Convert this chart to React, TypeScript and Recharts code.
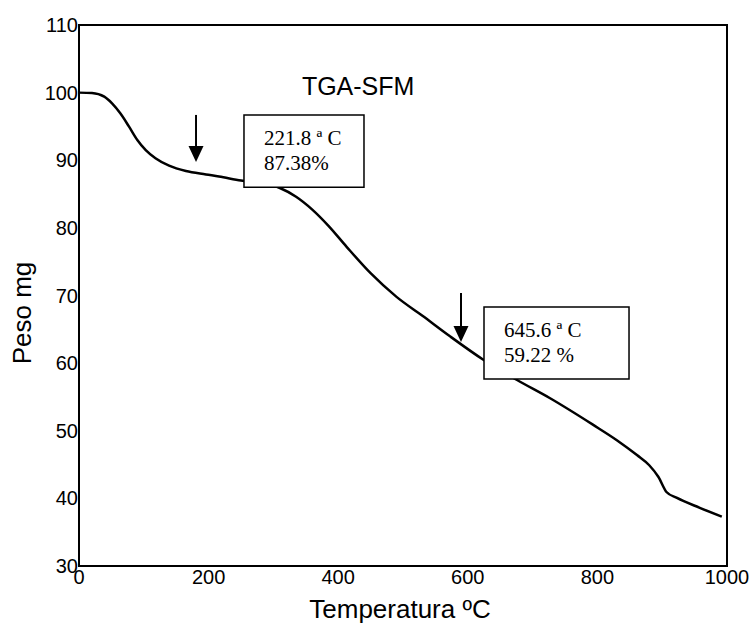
import {
  ComposedChart,
  Line,
  XAxis,
  YAxis,
  ReferenceArea,
  ReferenceLine,
  ReferenceDot,
} from "recharts";

const temps = [0, 20, 39, 51, 64, 77, 90, 103, 118, 139, 165, 196, 216, 250, 280, 310, 335, 360, 385, 413, 450, 490, 530, 572, 624, 676, 727, 793, 830, 861, 880, 894, 907, 922, 958, 992];
const weights = [100, 99.95, 99.4, 98.4, 96.9, 95.0, 93.0, 91.5, 90.3, 89.2, 88.4, 87.9, 87.6, 87.0, 86.6, 85.9, 84.6, 82.7, 80.3, 77.2, 73.3, 69.8, 67.0, 64.0, 60.5, 57.5, 54.8, 50.9, 48.6, 46.4, 44.9, 43.2, 40.9, 40.1, 38.6, 37.3];

const xTicks = [0, 200, 400, 600, 800, 1000];
const yTicks = [30, 40, 50, 60, 70, 80, 90, 100, 110];

// annotation boxes in data units, with their two text lines
const boxes = [
  { x1: 254.6, x2: 439.8, y1: 86.0, y2: 96.7, lines: ["221.8 ª C", "87.38%"] },
  { x1: 625, x2: 848.8, y1: 57.65, y2: 68.3, lines: ["645.6 ª C", "59.22 %"] },
];

const arrows = [
  { x: 180.6, top: 96.7, tip: 89.74 },
  { x: 589.5, top: 70.37, tip: 63.12 },
];

const data = temps.map((t, i) => ({ t, w: weights[i] }));

const SANS = "'Liberation Sans', Arial, sans-serif";
const SERIF = "'Liberation Serif', 'Times New Roman', serif";

function BoxText({ viewBox, lines }: any) {
  const { x, y } = viewBox;
  return (
    <g>
      {lines.map((l: string, i: number) => (
        <text key={i} x={x + 20} y={y + 30 + i * 25} fontFamily={SERIF} fontSize={21} fill="#000">
          {l}
        </text>
      ))}
    </g>
  );
}

function ArrowHead({ cx, cy }: any) {
  return <polygon points={`${cx - 7.5},${cy - 16} ${cx + 7.5},${cy - 16} ${cx},${cy}`} fill="#000" />;
}

function Title({ cx, cy }: any) {
  return (
    <text x={cx} y={cy} fontFamily={SANS} fontSize={25} fill="#000">
      TGA-SFM
    </text>
  );
}

export default function App() {
  return (
    <div style={{ width: 754, height: 624 }}>
      <style>{`body{margin:0}`}</style>
      <ComposedChart width={754} height={624} data={data} margin={{ top: 25, right: 27, bottom: 0, left: 0 }}>
        <XAxis
          dataKey="t"
          type="number"
          domain={[0, 1000]}
          ticks={xTicks}
          height={58}
          tickSize={0}
          tickMargin={4}
          tick={{ fontSize: 20, fill: "#000", fontFamily: SANS }}
          axisLine={{ stroke: "#000", strokeWidth: 2 }}
          label={() => (
            <text x={400} y={618} textAnchor="middle" fontFamily={SANS} fontSize={26} fill="#000">
              Temperatura ºC
            </text>
          )}
        />
        <YAxis
          type="number"
          domain={[30, 110]}
          ticks={yTicks}
          width={79}
          tickSize={0}
          tickMargin={1}
          tick={{ fontSize: 20, fill: "#000", fontFamily: SANS }}
          axisLine={{ stroke: "#000", strokeWidth: 2 }}
          label={() => (
            <text
              x={31}
              y={313}
              textAnchor="middle"
              transform="rotate(-90 31 313)"
              fontFamily={SANS}
              fontSize={26}
              fill="#000"
            >
              Peso mg
            </text>
          )}
        />
        <ReferenceArea x1={0} x2={1000} y1={30} y2={110} fill="none" stroke="#000" strokeWidth={2} fillOpacity={0} />
        <Line
          dataKey="w"
          type="monotone"
          stroke="#000"
          strokeWidth={2.5}
          dot={false}
          activeDot={false}
          isAnimationActive={false}
        />
        {boxes.map((b, i) => (
          <ReferenceArea
            key={i}
            x1={b.x1}
            x2={b.x2}
            y1={b.y1}
            y2={b.y2}
            fill="#fff"
            fillOpacity={1}
            stroke="#000"
            strokeWidth={1.5}
            zIndex={1200}
            label={(p: any) => <BoxText viewBox={p.viewBox} lines={b.lines} />}
          />
        ))}
        {arrows.map((a, i) => (
          <ReferenceLine
            key={"l" + i}
            segment={[
              { x: a.x, y: a.top },
              { x: a.x, y: a.tip + 1.5 },
            ]}
            stroke="#000"
            strokeWidth={2}
          />
        ))}
        {arrows.map((a, i) => (
          <ReferenceDot key={"d" + i} x={a.x} y={a.tip} r={1} shape={(p: any) => <ArrowHead {...p} />} />
        ))}
        <ReferenceDot x={344} y={99.65} r={1} shape={(p: any) => <Title {...p} />} />
      </ComposedChart>
    </div>
  );
}
